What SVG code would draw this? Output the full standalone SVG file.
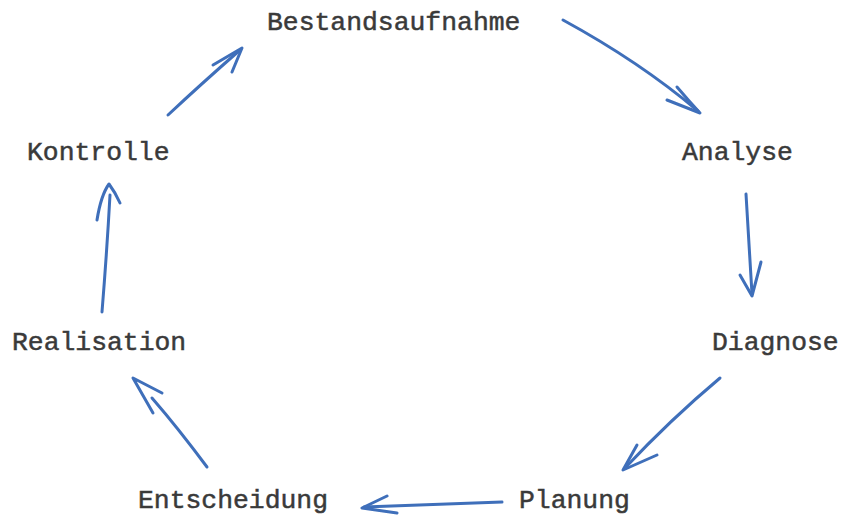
<svg xmlns="http://www.w3.org/2000/svg" width="842" height="520" viewBox="0 0 842 520">
<style>
.bg{fill:#ffffff}
.lbl{font-family:"Liberation Mono","Courier New",monospace;font-size:26.4px;fill:#3a3a3a;stroke:#3a3a3a;stroke-width:0.5}
.pen{fill:none;stroke:#3f6fba;stroke-width:3;stroke-linecap:round;stroke-linejoin:round}
</style>
<rect class="bg" x="0" y="0" width="842" height="520"/>
<g id="connectors">
<g id="c1"><path class="pen" d="M563,20 Q640,62 698,111"/><path class="pen" d="M677,87 Q688,100 700,113 L667,100"/></g>
<g id="c2"><path class="pen" d="M746,194 Q749,245 752,294"/><path class="pen" d="M740,275 L752,296 L761,262"/></g>
<g id="c3"><path class="pen" d="M720,378 Q670,420 625,468"/><path class="pen" d="M637,445 L623,470 L657,455"/></g>
<g id="c4"><path class="pen" d="M502,502 Q440,504 364,507"/><path class="pen" d="M387,496 L362,508 L397,513"/></g>
<g id="c5"><path class="pen" d="M207,467 Q178,428 152,398"/><path class="pen" d="M162,393 L133,378 L153,413"/></g>
<g id="c6"><path class="pen" d="M102,312 Q107,250 110,195"/><path class="pen" d="M97,220 Q101,195 109,184 Q115,192 120,203"/></g>
<g id="c7"><path class="pen" d="M168,115 Q200,85 240,50"/><path class="pen" d="M213,65 L242,48 L232,72"/></g>
</g>
<g id="n-bestandsaufnahme"><text class="lbl" x="267" y="30">Bestandsaufnahme</text></g>
<g id="n-analyse"><text class="lbl" x="682" y="160">Analyse</text></g>
<g id="n-diagnose"><text class="lbl" x="712" y="350">Diagnose</text></g>
<g id="n-planung"><text class="lbl" x="519" y="508">Planung</text></g>
<g id="n-entscheidung"><text class="lbl" x="138" y="508">Entscheidung</text></g>
<g id="n-realisation"><text class="lbl" x="12" y="350">Realisation</text></g>
<g id="n-kontrolle"><text class="lbl" x="27" y="160">Kontrolle</text></g>
</svg>
